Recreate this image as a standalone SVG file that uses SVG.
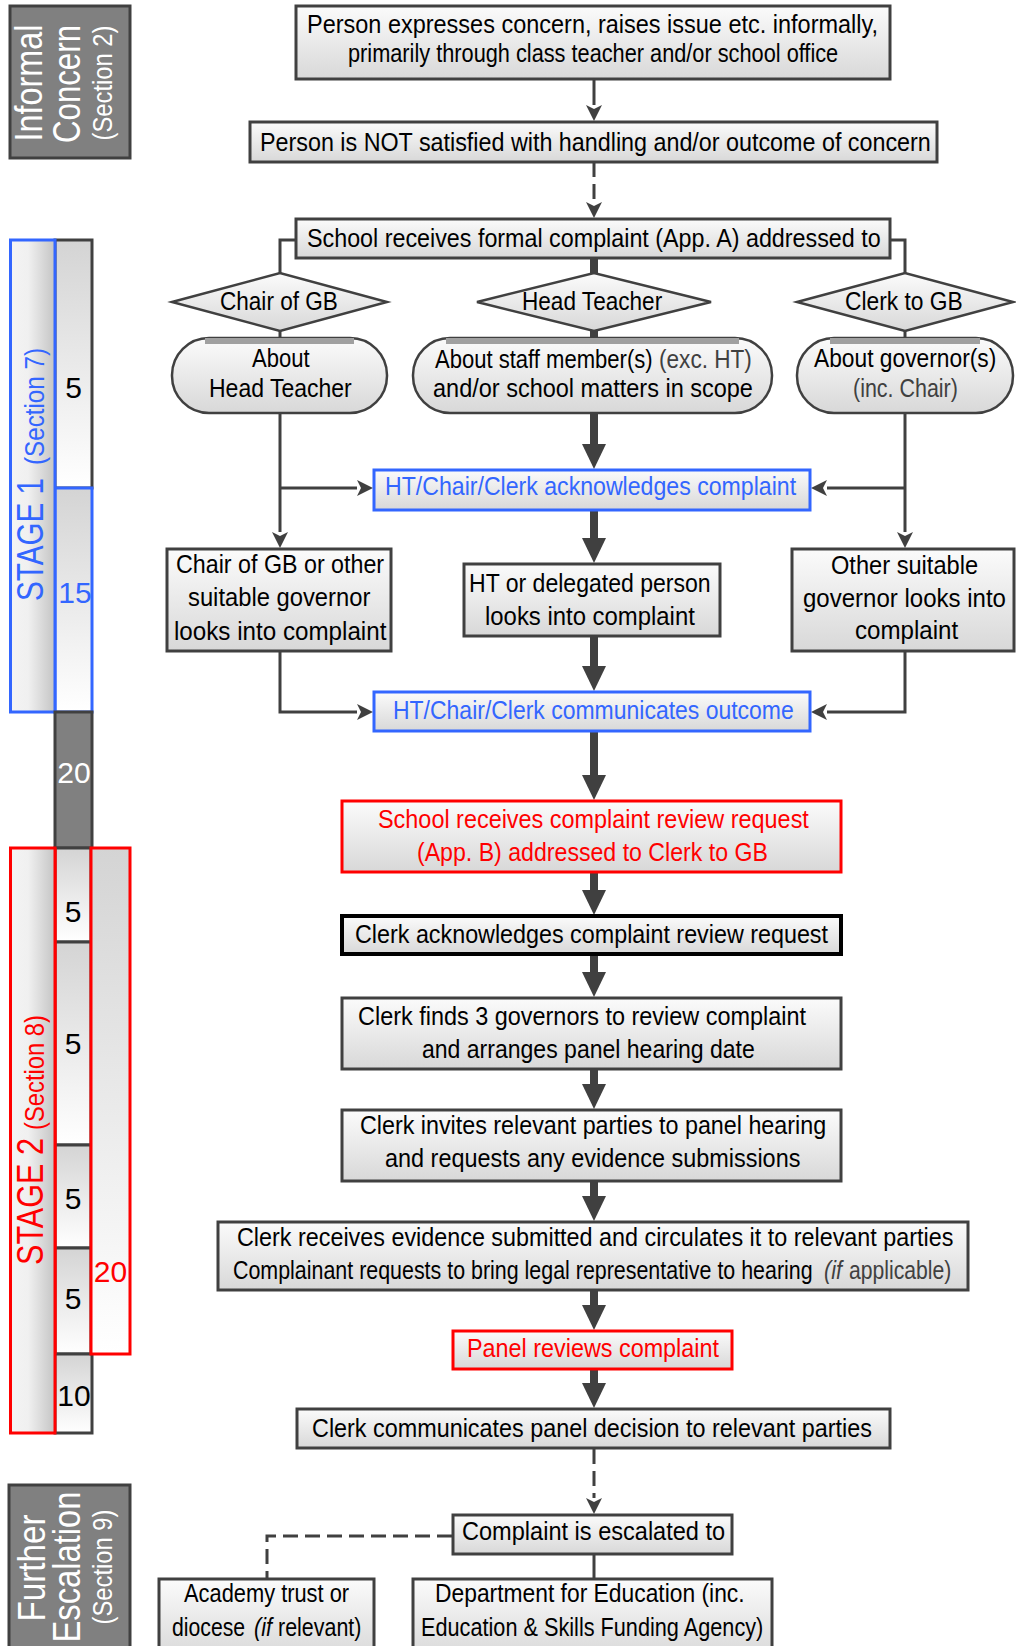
<svg xmlns="http://www.w3.org/2000/svg" width="1016" height="1646" viewBox="0 0 1016 1646">
<style>
.t{font-family:"Liberation Sans",Arial,sans-serif;font-size:25px;fill:#000}
.side{font-family:"Liberation Sans",Arial,sans-serif;fill:#fff}
.blue{fill:#3366ff}
.red{fill:#ff0000}
.grey{fill:#404040}
.box{fill:url(#gBox);stroke:#404040;stroke-width:3}
.bbox{fill:url(#gBox);stroke:#3366ff;stroke-width:3}
.rbox{fill:url(#gBox);stroke:#ff0000;stroke-width:3}
.kbox{fill:url(#gBox);stroke:#000;stroke-width:4}
.dia{fill:url(#gBox);stroke:#404040;stroke-width:2.5}
.stad{fill:url(#gBox);stroke:#404040;stroke-width:2.5}
.band{stroke:#a0a0a0;stroke-width:6}
.thin{fill:none;stroke:#404040;stroke-width:3}
.thick{fill:none;stroke:#404040;stroke-width:8}
.dash{stroke-dasharray:15 7}
.num{font-family:"Liberation Sans",Arial,sans-serif;font-size:30px;text-anchor:middle}
</style>
<defs>
<linearGradient id="gBox" x1="0" y1="0" x2="0" y2="1"><stop offset="0" stop-color="#fbfbfb"/><stop offset="1" stop-color="#d8d8d8"/></linearGradient>
<linearGradient id="gCell" x1="0" y1="0" x2="0" y2="1"><stop offset="0" stop-color="#d4d4d4"/><stop offset="1" stop-color="#ffffff"/></linearGradient>
<linearGradient id="gSide" x1="0" y1="0" x2="1" y2="0"><stop offset="0" stop-color="#f4f4f4"/><stop offset="0.4" stop-color="#f0f0f0"/><stop offset="1" stop-color="#c4c4c4"/></linearGradient>
<marker id="aThin" markerUnits="userSpaceOnUse" markerWidth="16" markerHeight="16" viewBox="0 0 16 16" refX="0" refY="8" orient="auto"><path d="M0,0 L16,8 L0,16 L4,8 Z" fill="#404040"/></marker>
<marker id="aThick" markerUnits="userSpaceOnUse" markerWidth="25" markerHeight="24" viewBox="0 0 25 24" refX="0" refY="12" orient="auto"><path d="M0,0 L25,12 L0,24 Z" fill="#404040"/></marker>
</defs>

<g id="timeline">
<g id="informal-concern">
<rect x="10" y="6" width="120" height="152" fill="#808080" stroke="#404040" stroke-width="3"/>
<text class="side" font-size="38" text-anchor="middle" transform="translate(42,83) rotate(-90)" textLength="117" lengthAdjust="spacingAndGlyphs">Informal</text>
<text class="side" font-size="38" text-anchor="middle" transform="translate(80,84) rotate(-90)" textLength="118" lengthAdjust="spacingAndGlyphs">Concern</text>
<text class="side" font-size="27" text-anchor="middle" transform="translate(112,83) rotate(-90)" textLength="115" lengthAdjust="spacingAndGlyphs">(Section 2)</text>
</g>
<g id="stage1">
<rect x="55" y="240" width="37" height="248" fill="url(#gCell)" stroke="#404040" stroke-width="3"/>
<rect x="55" y="488" width="37" height="224" fill="url(#gCell)" stroke="#3366ff" stroke-width="3"/>
<rect x="10.5" y="240" width="44.5" height="472" fill="url(#gSide)" stroke="#3366ff" stroke-width="3"/>
<text class="side blue" font-size="36" transform="translate(43,601) rotate(-90)" textLength="123" lengthAdjust="spacingAndGlyphs">STAGE 1</text>
<text class="side blue" font-size="27" transform="translate(44,465) rotate(-90)" textLength="117" lengthAdjust="spacingAndGlyphs">(Section 7)</text>
<text class="num" x="73.5" y="398">5</text>
<text class="num blue" x="75" y="603">15</text>
</g>
<g id="gap20">
<rect x="55" y="712" width="37" height="136" fill="#808080" stroke="#404040" stroke-width="3"/>
<text class="num" x="74" y="783" fill="#fff">20</text>
</g>
<g id="stage2">
<rect x="55" y="848" width="36" height="94" fill="url(#gCell)" stroke="#404040" stroke-width="3"/>
<rect x="55" y="942" width="36" height="203" fill="url(#gCell)" stroke="#404040" stroke-width="3"/>
<rect x="55" y="1145" width="36" height="103" fill="url(#gCell)" stroke="#404040" stroke-width="3"/>
<rect x="55" y="1248" width="36" height="106" fill="url(#gCell)" stroke="#404040" stroke-width="3"/>
<rect x="55" y="1354" width="37" height="79" fill="url(#gCell)" stroke="#404040" stroke-width="3"/>
<rect x="91" y="848" width="39" height="506" fill="url(#gCell)" stroke="#ff0000" stroke-width="3"/>
<line x1="55" y1="848" x2="55" y2="1354" stroke="#ff0000" stroke-width="3"/>
<rect x="10.5" y="848" width="44.5" height="585" fill="url(#gSide)" stroke="#ff0000" stroke-width="3"/>
<text class="side red" font-size="36" transform="translate(43,1265) rotate(-90)" textLength="127" lengthAdjust="spacingAndGlyphs">STAGE 2</text>
<text class="side red" font-size="27" transform="translate(44,1130) rotate(-90)" textLength="115" lengthAdjust="spacingAndGlyphs">(Section 8)</text>
<text class="num" x="73" y="922">5</text>
<text class="num" x="73" y="1054">5</text>
<text class="num" x="73" y="1209">5</text>
<text class="num" x="73" y="1309">5</text>
<text class="num" x="74" y="1406">10</text>
<text class="num red" x="110.5" y="1282">20</text>
</g>
<g id="further-escalation">
<rect x="9" y="1485" width="121" height="172" fill="#808080" stroke="#404040" stroke-width="3"/>
<text class="side" font-size="38" text-anchor="middle" transform="translate(45,1568) rotate(-90)" textLength="107" lengthAdjust="spacingAndGlyphs">Further</text>
<text class="side" font-size="38" text-anchor="middle" transform="translate(80,1567) rotate(-90)" textLength="151" lengthAdjust="spacingAndGlyphs">Escalation</text>
<text class="side" font-size="27" text-anchor="middle" transform="translate(112,1567) rotate(-90)" textLength="115" lengthAdjust="spacingAndGlyphs">(Section 9)</text>
</g>
</g>

<g id="connectors">
<line class="thin" x1="594" y1="79" x2="594" y2="105" marker-end="url(#aThin)"/>
<line class="thin dash" x1="594" y1="162" x2="594" y2="202" marker-end="url(#aThin)"/>
<polyline class="thin" points="296,240 280,240 280,273"/>
<polyline class="thin" points="890,240 905,240 905,273"/>
<line class="thick" x1="594" y1="258" x2="594" y2="274"/>
<line class="thin" x1="280" y1="331" x2="280" y2="338"/>
<line class="thick" x1="594" y1="330" x2="594" y2="339"/>
<line class="thin" x1="905" y1="331" x2="905" y2="338"/>
<line class="thick" x1="594" y1="413" x2="594" y2="444" marker-end="url(#aThick)"/>
<line class="thin" x1="280" y1="413" x2="280" y2="532" marker-end="url(#aThin)"/>
<line class="thin" x1="280" y1="488" x2="357" y2="488" marker-end="url(#aThin)"/>
<line class="thin" x1="905" y1="413" x2="905" y2="532" marker-end="url(#aThin)"/>
<line class="thin" x1="905" y1="488" x2="827" y2="488" marker-end="url(#aThin)"/>
<line class="thick" x1="594" y1="511" x2="594" y2="538" marker-end="url(#aThick)"/>
<polyline class="thin" points="280,652 280,712 357,712" marker-end="url(#aThin)"/>
<polyline class="thin" points="905,652 905,712 827,712" marker-end="url(#aThin)"/>
<line class="thick" x1="594" y1="637" x2="594" y2="666" marker-end="url(#aThick)"/>
<line class="thick" x1="594" y1="731" x2="594" y2="775" marker-end="url(#aThick)"/>
<line class="thick" x1="594" y1="873" x2="594" y2="890" marker-end="url(#aThick)"/>
<line class="thick" x1="594" y1="955" x2="594" y2="972" marker-end="url(#aThick)"/>
<line class="thick" x1="594" y1="1070" x2="594" y2="1084" marker-end="url(#aThick)"/>
<line class="thick" x1="594" y1="1182" x2="594" y2="1196" marker-end="url(#aThick)"/>
<line class="thick" x1="594" y1="1291" x2="594" y2="1305" marker-end="url(#aThick)"/>
<line class="thick" x1="594" y1="1370" x2="594" y2="1383" marker-end="url(#aThick)"/>
<line class="thin dash" x1="594" y1="1449" x2="594" y2="1498" marker-end="url(#aThin)"/>
<line class="thin" x1="594" y1="1555" x2="594" y2="1578"/>
<polyline class="thin dash" points="452,1536 267,1536 267,1578"/>
</g>

<g id="n-informal">
<rect class="box" x="296" y="6" width="594" height="73"/>
<text class="t" transform="translate(307 33) scale(.86 1)" textLength="664" lengthAdjust="spacingAndGlyphs">Person expresses concern, raises issue etc. informally,</text>
<text class="t" transform="translate(348 62) scale(.86 1)" textLength="570" lengthAdjust="spacingAndGlyphs">primarily through class teacher and/or school office</text>
</g>
<g id="n-not-satisfied">
<rect class="box" x="250" y="122" width="687" height="40"/>
<text class="t" transform="translate(260 151) scale(.86 1)" textLength="780" lengthAdjust="spacingAndGlyphs">Person is NOT satisfied with handling and/or outcome of concern</text>
</g>
<g id="n-formal">
<rect class="box" x="296" y="219" width="594" height="39"/>
<text class="t" transform="translate(307 247) scale(.86 1)" textLength="667" lengthAdjust="spacingAndGlyphs">School receives formal complaint (App. A) addressed to</text>
</g>
<g id="d-chair">
<polygon class="dia" points="172,302 280,273 387,302 280,331"/>
<text class="t" transform="translate(220 310) scale(.86 1)" textLength="137" lengthAdjust="spacingAndGlyphs">Chair of GB</text>
</g>
<g id="d-head">
<polygon class="dia" points="477,302 594,273 711,302 594,331"/>
<text class="t" transform="translate(522 310) scale(.86 1)" textLength="163" lengthAdjust="spacingAndGlyphs">Head Teacher</text>
</g>
<g id="d-clerk">
<polygon class="dia" points="797,302 905,273 1013,302 905,331"/>
<text class="t" transform="translate(845 310) scale(.86 1)" textLength="137" lengthAdjust="spacingAndGlyphs">Clerk to GB</text>
</g>
<g id="s-about-ht">
<rect class="stad" x="172" y="338" width="215" height="75" rx="37" ry="37"/>
<line class="band" x1="205" y1="341" x2="354" y2="341"/>
<text class="t" transform="translate(252 367) scale(.86 1)" textLength="67" lengthAdjust="spacingAndGlyphs">About</text>
<text class="t" transform="translate(209 397) scale(.86 1)" textLength="166" lengthAdjust="spacingAndGlyphs">Head Teacher</text>
</g>
<g id="s-about-staff">
<rect class="stad" x="413" y="338" width="359" height="75" rx="37" ry="37"/>
<line class="band" x1="446" y1="341" x2="739" y2="341"/>
<text class="t" transform="translate(435 368) scale(.86 1)" textLength="253" lengthAdjust="spacingAndGlyphs">About staff member(s)</text>
<text class="t grey" transform="translate(659 368) scale(.86 1)" textLength="108" lengthAdjust="spacingAndGlyphs">(exc. HT)</text>
<text class="t" transform="translate(433 397) scale(.86 1)" textLength="372" lengthAdjust="spacingAndGlyphs">and/or school matters in scope</text>
</g>
<g id="s-about-gov">
<rect class="stad" x="797" y="338" width="216" height="75" rx="37" ry="37"/>
<line class="band" x1="830" y1="341" x2="980" y2="341"/>
<text class="t" transform="translate(814 367) scale(.86 1)" textLength="212" lengthAdjust="spacingAndGlyphs">About governor(s)</text>
<text class="t grey" transform="translate(853 397) scale(.86 1)" textLength="122" lengthAdjust="spacingAndGlyphs">(inc. Chair)</text>
</g>
<g id="n-ack">
<rect class="bbox" x="374" y="470" width="436" height="40"/>
<text class="t blue" transform="translate(385 495) scale(.86 1)" textLength="478" lengthAdjust="spacingAndGlyphs">HT/Chair/Clerk acknowledges complaint</text>
</g>
<g id="n-chair-looks">
<rect class="box" x="167" y="549" width="224" height="102"/>
<text class="t" transform="translate(176 573) scale(.86 1)" textLength="242" lengthAdjust="spacingAndGlyphs">Chair of GB or other</text>
<text class="t" transform="translate(188 606) scale(.86 1)" textLength="212" lengthAdjust="spacingAndGlyphs">suitable governor</text>
<text class="t" transform="translate(174 640) scale(.86 1)" textLength="247" lengthAdjust="spacingAndGlyphs">looks into complaint</text>
</g>
<g id="n-ht-looks">
<rect class="box" x="464" y="564" width="256" height="72"/>
<text class="t" transform="translate(469 592) scale(.86 1)" textLength="281" lengthAdjust="spacingAndGlyphs">HT or delegated person</text>
<text class="t" transform="translate(485 625) scale(.86 1)" textLength="244" lengthAdjust="spacingAndGlyphs">looks into complaint</text>
</g>
<g id="n-other-looks">
<rect class="box" x="792" y="549" width="222" height="102"/>
<text class="t" transform="translate(831 574) scale(.86 1)" textLength="171" lengthAdjust="spacingAndGlyphs">Other suitable</text>
<text class="t" transform="translate(803 607) scale(.86 1)" textLength="236" lengthAdjust="spacingAndGlyphs">governor looks into</text>
<text class="t" transform="translate(855 639) scale(.86 1)" textLength="120" lengthAdjust="spacingAndGlyphs">complaint</text>
</g>
<g id="n-outcome">
<rect class="bbox" x="374" y="692" width="436" height="39"/>
<text class="t blue" transform="translate(393 719) scale(.86 1)" textLength="466" lengthAdjust="spacingAndGlyphs">HT/Chair/Clerk communicates outcome</text>
</g>
<g id="n-review-request">
<rect class="rbox" x="342" y="801" width="499" height="71"/>
<text class="t red" transform="translate(378 828) scale(.86 1)" textLength="501" lengthAdjust="spacingAndGlyphs">School receives complaint review request</text>
<text class="t red" transform="translate(417 861) scale(.86 1)" textLength="408" lengthAdjust="spacingAndGlyphs">(App. B) addressed to Clerk to GB</text>
</g>
<g id="n-clerk-ack">
<rect class="kbox" x="342" y="916" width="499" height="38"/>
<text class="t" transform="translate(355 943) scale(.86 1)" textLength="550" lengthAdjust="spacingAndGlyphs">Clerk acknowledges complaint review request</text>
</g>
<g id="n-finds">
<rect class="box" x="342" y="998" width="499" height="71"/>
<text class="t" transform="translate(358 1025) scale(.86 1)" textLength="521" lengthAdjust="spacingAndGlyphs">Clerk finds 3 governors to review complaint</text>
<text class="t" transform="translate(422 1058) scale(.86 1)" textLength="387" lengthAdjust="spacingAndGlyphs">and arranges panel hearing date</text>
</g>
<g id="n-invites">
<rect class="box" x="342" y="1110" width="499" height="71"/>
<text class="t" transform="translate(360 1134) scale(.86 1)" textLength="542" lengthAdjust="spacingAndGlyphs">Clerk invites relevant parties to panel hearing</text>
<text class="t" transform="translate(385 1167) scale(.86 1)" textLength="483" lengthAdjust="spacingAndGlyphs">and requests any evidence submissions</text>
</g>
<g id="n-evidence">
<rect class="box" x="218" y="1222" width="750" height="68"/>
<text class="t" transform="translate(237 1246) scale(.86 1)" textLength="833" lengthAdjust="spacingAndGlyphs">Clerk receives evidence submitted and circulates it to relevant parties</text>
<text class="t" transform="translate(233 1279) scale(.86 1)" textLength="674" lengthAdjust="spacingAndGlyphs">Complainant requests to bring legal representative to hearing</text>
<text class="t grey" transform="translate(824 1279) scale(.86 1)" font-style="italic" textLength="21" lengthAdjust="spacingAndGlyphs">(if</text>
<text class="t grey" transform="translate(849 1279) scale(.86 1)" textLength="119" lengthAdjust="spacingAndGlyphs">applicable)</text>
</g>
<g id="n-panel">
<rect class="rbox" x="453" y="1331" width="279" height="38"/>
<text class="t red" transform="translate(467 1357) scale(.86 1)" textLength="293" lengthAdjust="spacingAndGlyphs">Panel reviews complaint</text>
</g>
<g id="n-decision">
<rect class="box" x="297" y="1409" width="593" height="39"/>
<text class="t" transform="translate(312 1437) scale(.86 1)" textLength="651" lengthAdjust="spacingAndGlyphs">Clerk communicates panel decision to relevant parties</text>
</g>
<g id="n-escalated">
<rect class="box" x="453" y="1515" width="279" height="39"/>
<text class="t" transform="translate(462 1540) scale(.86 1)" textLength="306" lengthAdjust="spacingAndGlyphs">Complaint is escalated to</text>
</g>
<g id="n-academy">
<rect class="box" x="159" y="1579" width="215" height="80"/>
<text class="t" transform="translate(184 1602) scale(.86 1)" textLength="192" lengthAdjust="spacingAndGlyphs">Academy trust or</text>
<text class="t" transform="translate(172 1636) scale(.86 1)" textLength="85" lengthAdjust="spacingAndGlyphs">diocese</text>
<text class="t" transform="translate(254 1636) scale(.86 1)" font-style="italic" textLength="21" lengthAdjust="spacingAndGlyphs">(if</text>
<text class="t" transform="translate(278 1636) scale(.86 1)" textLength="97" lengthAdjust="spacingAndGlyphs">relevant)</text>
</g>
<g id="n-dfe">
<rect class="box" x="413" y="1579" width="359" height="80"/>
<text class="t" transform="translate(435 1602) scale(.86 1)" textLength="360" lengthAdjust="spacingAndGlyphs">Department for Education (inc.</text>
<text class="t" transform="translate(421 1636) scale(.86 1)" textLength="398" lengthAdjust="spacingAndGlyphs">Education &amp; Skills Funding Agency)</text>
</g>
</svg>
